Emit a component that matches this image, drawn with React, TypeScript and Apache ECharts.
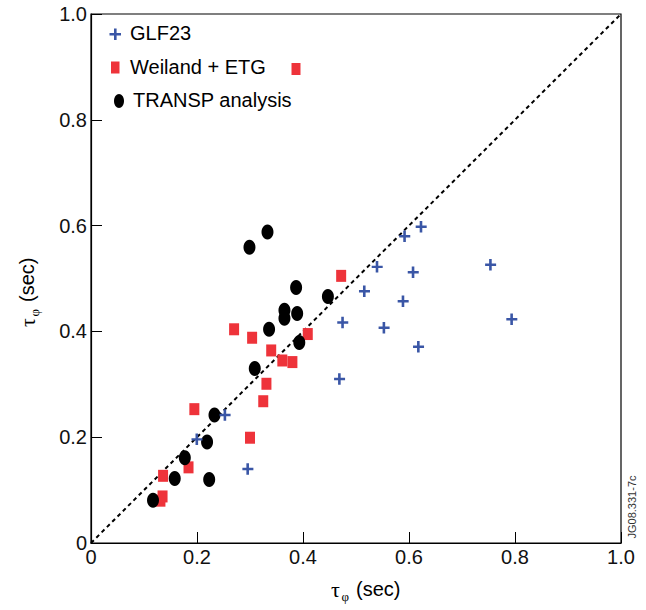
import React, { useEffect, useRef } from "react";
import * as echarts from "echarts";

const axisTicks = [0, 0.2, 0.4, 0.6, 0.8, 1.0];
const seriesNames = ["GLF23", "Weiland + ETG", "TRANSP analysis"];

const glf23: number[][] = [
  [0.2, 0.196], [0.253, 0.242], [0.296, 0.14], [0.469, 0.31], [0.475, 0.417],
  [0.516, 0.476], [0.54, 0.522], [0.553, 0.407], [0.589, 0.457], [0.592, 0.58],
  [0.608, 0.512], [0.618, 0.371], [0.623, 0.598], [0.754, 0.526], [0.794, 0.423],
];

const weiland: number[][] = [
  [0.131, 0.08], [0.135, 0.088], [0.136, 0.127], [0.184, 0.143], [0.195, 0.253],
  [0.27, 0.404], [0.3, 0.199], [0.304, 0.388], [0.325, 0.268], [0.331, 0.301],
  [0.34, 0.364], [0.361, 0.345], [0.38, 0.342], [0.409, 0.395], [0.472, 0.505],
];

const transp: number[][] = [
  [0.117, 0.081], [0.158, 0.122], [0.177, 0.161], [0.219, 0.191], [0.223, 0.12],
  [0.233, 0.242], [0.299, 0.559], [0.309, 0.33], [0.333, 0.588], [0.336, 0.404],
  [0.365, 0.425], [0.365, 0.44], [0.387, 0.483], [0.389, 0.434], [0.393, 0.379],
  [0.447, 0.466],
];

const diagonal: number[][] = [[0, 0], [1, 1]];

const BLUE = "#3a56a6";
const RED = "#ee333a";
const BLACK = "#000000";
const CROSS = "path://M4,0H6.6V4.6H11V7H6.6V11.5H4V7H0V4.6H4Z";
const FONT = "'Liberation Sans', Arial, Helvetica, sans-serif";
const SERIF = "'Liberation Serif', 'Times New Roman', serif";

export default function App() {
  const ref = useRef<HTMLDivElement>(null);
  useEffect(() => {
    if (!ref.current) return;
    const chart = echarts.init(ref.current, undefined, { renderer: "svg" });
    const fmt = (v: number) => (v === 0 ? "0" : v.toFixed(1));
    const axisCommon = {
      type: "value" as const,
      min: axisTicks[0],
      max: axisTicks[axisTicks.length - 1],
      interval: 0.2,
      splitLine: { show: false },
      axisLine: { show: true, lineStyle: { color: "#000", width: 1.2 } },
      axisTick: { show: true, inside: true, length: 11, lineStyle: { color: "#000", width: 1 } },
      axisLabel: {
        formatter: fmt,
        color: "#111",
        fontSize: 20,
        fontFamily: FONT,
      },
    };
    const option: any = {
      animation: false,
      backgroundColor: "#fff",
      grid: {
        left: 91,
        top: 14,
        width: 530,
        height: 529,
        show: true,
        borderColor: "#000",
        borderWidth: 1.2,
      },
      xAxis: { ...axisCommon, axisLabel: { ...axisCommon.axisLabel, margin: 4 } },
      yAxis: { ...axisCommon, axisLabel: { ...axisCommon.axisLabel, margin: 4 } },
      series: [
        {
          type: "line",
          data: diagonal,
          symbol: "none",
          silent: true,
          z: 1,
          lineStyle: { color: "#000", width: 2, type: [4, 3.5] },
        },
        {
          name: seriesNames[1],
          type: "scatter",
          data: weiland,
          symbol: "rect",
          symbolSize: [10, 12],
          itemStyle: { color: RED, opacity: 1 },
          z: 2,
        },
        {
          name: seriesNames[2],
          type: "scatter",
          data: transp,
          symbol: "circle",
          symbolSize: [12, 15],
          itemStyle: { color: BLACK, opacity: 1 },
          z: 3,
        },
        {
          name: seriesNames[0],
          type: "scatter",
          data: glf23,
          symbol: CROSS,
          symbolSize: [11, 11.5],
          itemStyle: { color: BLUE, opacity: 1 },
          z: 4,
        },
      ],
      graphic: [
        {
          type: "polygon",
          shape: {
            points: [
              [114, 28.5], [116.6, 28.5], [116.6, 33], [121, 33], [121, 35.4],
              [116.6, 35.4], [116.6, 40], [114, 40], [114, 35.4], [109.5, 35.4],
              [109.5, 33], [114, 33],
            ],
          },
          style: { fill: BLUE },
        },
        { type: "text", left: 130, top: 23, style: { text: seriesNames[0], fontSize: 20, fontFamily: FONT, fill: "#000" } },
        { type: "rect", shape: { x: 111, y: 61.5, width: 8.5, height: 12 }, style: { fill: RED } },
        { type: "text", left: 130, top: 57, style: { text: seriesNames[1], fontSize: 20, fontFamily: FONT, fill: "#000" } },
        { type: "rect", shape: { x: 291.5, y: 63, width: 9, height: 12 }, style: { fill: RED } },
        { type: "ellipse", shape: { cx: 119, cy: 101, rx: 5, ry: 7 }, style: { fill: BLACK } },
        { type: "text", left: 133, top: 90, style: { text: seriesNames[2], fontSize: 20, fontFamily: FONT, fill: "#000" } },
        {
          type: "group",
          x: 331,
          y: 589,
          children: [
            { type: "text", x: 0, y: 0, style: { text: "τ", fontSize: 22, fontFamily: SERIF, fill: "#000", verticalAlign: "middle" } },
            { type: "text", x: 10.5, y: 7, style: { text: "φ", fontSize: 13, fontFamily: SERIF, fill: "#000", verticalAlign: "middle" } },
            { type: "text", x: 25, y: 0, style: { text: "(sec)", fontSize: 20, fontFamily: FONT, fill: "#000", verticalAlign: "middle" } },
          ],
        },
        {
          type: "group",
          x: 27,
          y: 327,
          rotation: Math.PI / 2,
          children: [
            { type: "text", x: 0, y: 0, style: { text: "τ", fontSize: 22, fontFamily: SERIF, fill: "#000", verticalAlign: "middle" } },
            { type: "text", x: 10.5, y: 7, style: { text: "φ", fontSize: 13, fontFamily: SERIF, fill: "#000", verticalAlign: "middle" } },
            { type: "text", x: 25, y: 0, style: { text: "(sec)", fontSize: 20, fontFamily: FONT, fill: "#000", verticalAlign: "middle" } },
          ],
        },
        {
          type: "text",
          x: 632,
          y: 507,
          rotation: Math.PI / 2,
          style: {
            text: "JG08.331-7c",
            fontSize: 11,
            fontFamily: FONT,
            fill: "#333",
            align: "center",
            verticalAlign: "middle",
          },
        },
      ],
    };
    chart.setOption(option);
    return () => chart.dispose();
  }, []);
  return (
    <div
      ref={ref}
      style={{ position: "fixed", left: 0, top: 0, width: 646, height: 610, background: "#fff" }}
    />
  );
}
